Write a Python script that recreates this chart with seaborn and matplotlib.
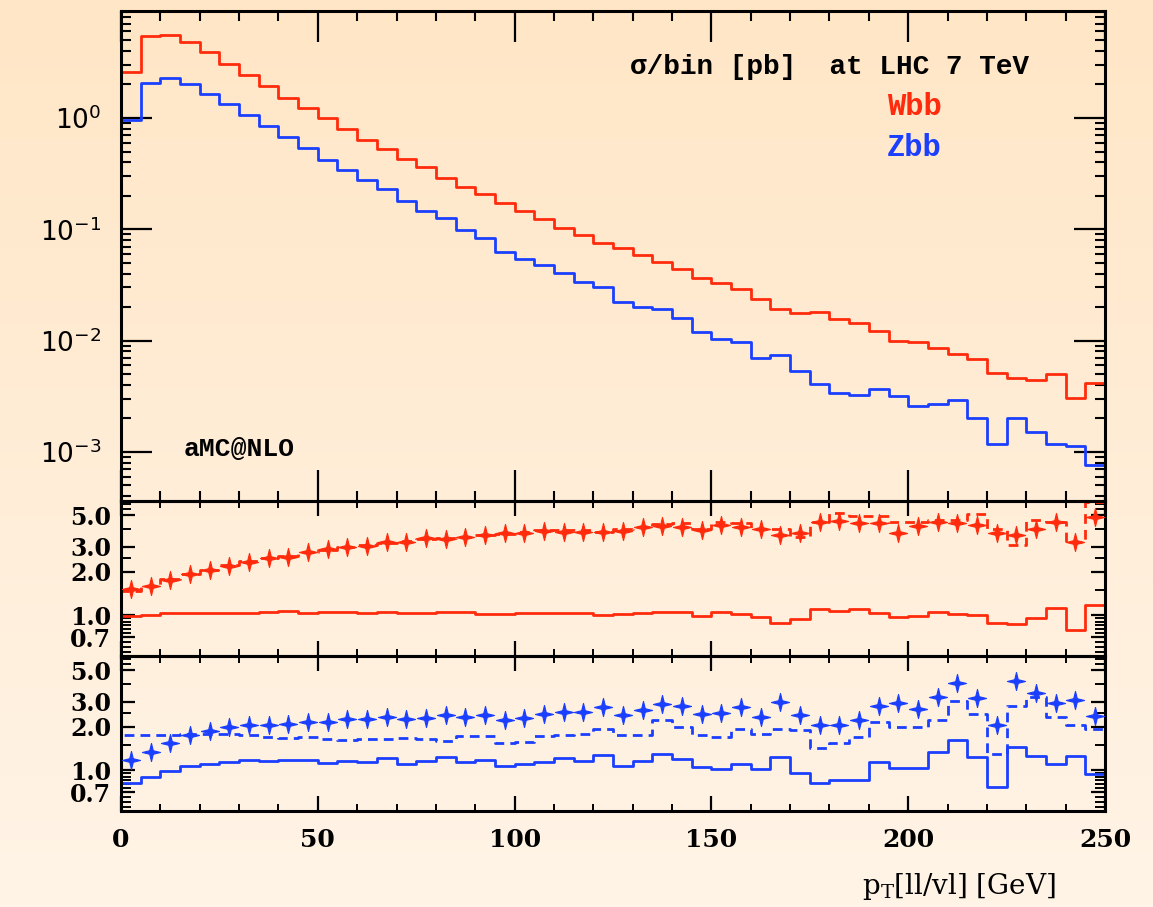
import numpy as np
import pandas as pd
import matplotlib
matplotlib.use("Agg")
import matplotlib.pyplot as plt
from matplotlib.path import Path
from matplotlib.colors import LinearSegmentedColormap
from matplotlib.ticker import (FixedLocator, FixedFormatter, LogLocator,
                               MultipleLocator, NullFormatter)
import seaborn as sns

# ---------------- data ----------------
bin_edges = np.arange(0, 255, 5)          # pT bins [GeV]
bin_centers = bin_edges[:-1] + 2.5

wbb_xsec = [2.57, 5.4, 5.6, 4.85, 3.9, 3.08, 2.43, 1.94, 1.51, 1.22,
            0.99, 0.79, 0.64, 0.53, 0.43, 0.36, 0.287, 0.241, 0.209, 0.172,
            0.145, 0.124, 0.103, 0.0889, 0.0759, 0.0676, 0.0588, 0.0505, 0.0437, 0.0363,
            0.0331, 0.0288, 0.0236, 0.0191, 0.0176, 0.0181, 0.0156, 0.0143, 0.0121, 0.00985,
            0.00965, 0.0085, 0.00758, 0.00679, 0.00515, 0.00464, 0.0044, 0.00498, 0.00303, 0.00413]

zbb_xsec = [0.96, 2.08, 2.27, 2.03, 1.65, 1.34, 1.07, 0.848, 0.679, 0.534,
            0.422, 0.341, 0.275, 0.23, 0.179, 0.146, 0.126, 0.0986, 0.0841, 0.063,
            0.0537, 0.0478, 0.0402, 0.0334, 0.0305, 0.0224, 0.0202, 0.0192, 0.0161, 0.012,
            0.0103, 0.00977, 0.00698, 0.00748, 0.00537, 0.00407, 0.0034, 0.00323, 0.00367, 0.00318,
            0.0026, 0.00269, 0.00292, 0.002, 0.00118, 0.002, 0.00152, 0.00118, 0.00114, 0.00077]

wbb_ratio_solid = [0.984, 1.0, 1.03, 1.04, 1.04, 1.04, 1.04, 1.05, 1.06, 1.04,
                   1.05, 1.05, 1.04, 1.05, 1.04, 1.03, 1.05, 1.05, 1.016, 1.02,
                   1.04, 1.04, 1.03, 1.04, 1.0, 1.016, 1.04, 1.044, 1.05, 0.984,
                   1.044, 1.02, 0.973, 0.875, 0.943, 1.1, 1.066, 1.096, 1.04, 0.973,
                   0.979, 1.044, 1.02, 1.0, 0.875, 0.865, 0.953, 1.125, 0.786, 1.175]

wbb_ratio_dashed = [1.48, 1.6, 1.78, 1.95, 2.08, 2.22, 2.38, 2.5, 2.6, 2.75,
                    2.85, 3.0, 3.1, 3.2, 3.3, 3.4, 3.45, 3.5, 3.6, 3.7,
                    3.8, 3.9, 3.95, 3.9, 3.83, 3.97, 4.1, 4.33, 4.38, 3.97,
                    4.49, 4.38, 3.97, 3.97, 3.53, 4.49, 5.19, 4.92, 4.92, 4.49,
                    4.49, 4.61, 4.61, 5.08, 3.97, 3.09, 4.61, 4.49, 3.26, 6.2]

wbb_ratio_points = [1.51, 1.6, 1.76, 1.93, 2.06, 2.2, 2.36, 2.52, 2.56, 2.74,
                    2.88, 3.0, 3.04, 3.26, 3.26, 3.44, 3.4, 3.49, 3.63, 3.73,
                    3.77, 3.89, 3.83, 3.83, 3.83, 3.89, 4.1, 4.19, 4.15, 3.93,
                    4.26, 4.15, 3.99, 3.63, 3.76, 4.45, 4.57, 4.38, 4.38, 3.76,
                    4.21, 4.45, 4.42, 4.26, 3.73, 3.63, 3.97, 4.49, 3.26, 4.82]

zbb_ratio_solid = [0.814, 0.896, 0.987, 1.07, 1.11, 1.14, 1.17, 1.164, 1.18, 1.18,
                   1.12, 1.16, 1.13, 1.22, 1.1, 1.15, 1.23, 1.13, 1.18, 1.06,
                   1.11, 1.13, 1.22, 1.15, 1.27, 1.07, 1.15, 1.29, 1.2, 1.05,
                   1.01, 1.11, 1.02, 1.24, 0.956, 0.818, 0.858, 0.858, 1.14, 1.04,
                   1.035, 1.33, 1.63, 1.24, 0.763, 1.44, 1.25, 1.11, 1.25, 0.945]

zbb_ratio_dashed = [1.77, 1.77, 1.77, 1.79, 1.79, 1.8, 1.75, 1.71, 1.68, 1.71,
                    1.66, 1.61, 1.64, 1.66, 1.68, 1.66, 1.59, 1.73, 1.73, 1.55,
                    1.56, 1.73, 1.77, 1.8, 1.95, 1.77, 1.77, 2.23, 2.0, 1.77,
                    1.71, 1.95, 1.8, 1.95, 1.9, 1.43, 1.55, 1.71, 2.15, 2.0,
                    2.0, 2.25, 3.03, 2.48, 1.30, 2.81, 3.25, 2.33, 2.08, 1.95]

zbb_ratio_points = [1.17, 1.33, 1.55, 1.75, 1.88, 2.0, 2.06, 2.08, 2.11, 2.15,
                    2.15, 2.27, 2.27, 2.36, 2.29, 2.32, 2.44, 2.36, 2.44, 2.25,
                    2.32, 2.47, 2.55, 2.55, 2.77, 2.44, 2.62, 2.89, 2.81, 2.47,
                    2.52, 2.74, 2.33, 3.0, 2.42, 2.08, 2.08, 2.25, 2.79, 2.92,
                    2.66, 3.25, 4.03, 3.2, 2.08, 4.2, 3.43, 2.92, 3.08, 2.39]

ratio_ticks = [0.7, 1.0, 2.0, 3.0, 5.0]
ratio_tick_labels = ["0.7", "1.0", "2.0", "3.0", "5.0"]
x_ticks = [0, 50, 100, 150, 200, 250]

RED = "#ff2b0c"
BLUE = "#1b3fff"

# ---------------- style ----------------
sns.set_theme(style="ticks")
plt.rcParams["font.family"] = ["DejaVu Sans"]
plt.rcParams["axes.linewidth"] = 2.2
plt.rcParams["text.color"] = "black"
plt.rcParams["xtick.color"] = "black"
plt.rcParams["ytick.color"] = "black"
plt.rcParams["xtick.labelcolor"] = "black"
plt.rcParams["ytick.labelcolor"] = "black"

fig = plt.figure(figsize=(11.53, 9.07), dpi=100)

# background gradient
bg = fig.add_axes([0, 0, 1, 1], zorder=-10)
grad = np.linspace(0, 1, 256)[:, None]
cmap = LinearSegmentedColormap.from_list("bg", ["#ffe6c6", "#fff4e7"])
bg.imshow(grad, aspect="auto", cmap=cmap, extent=[0, 1, 0, 1], origin="upper")
bg.axis("off")

H = 907.0
L, W = 121 / 1153, 984 / 1153
ax_top = fig.add_axes([L, (H - 501) / H, W, 490 / H])
ax_mid = fig.add_axes([L, (H - 656) / H, W, 155 / H])
ax_bot = fig.add_axes([L, (H - 811) / H, W, 155 / H])

TOP_YLIM = (3.62e-4, 9.15)
RATIO_YLIM = (0.517, 6.27)

star = Path.unit_regular_star(4, innerCircle=0.28)


def step_frame(values, floor):
    x = np.concatenate([[bin_edges[0]], bin_edges])
    y = np.concatenate([[floor], values, [values[-1]]])
    return pd.DataFrame({"x": x, "y": y})


def draw_step(ax, values, floor, color, ls="-"):
    sns.lineplot(data=step_frame(values, floor), x="x", y="y", ax=ax,
                 estimator=None, sort=False, drawstyle="steps-post",
                 color=color, linewidth=2.0, linestyle=ls)


for ax in (ax_top, ax_mid, ax_bot):
    ax.set_facecolor("none")

# top panel
ax_top.set_yscale("log")
draw_step(ax_top, wbb_xsec, TOP_YLIM[0], RED)
draw_step(ax_top, zbb_xsec, TOP_YLIM[0], BLUE)
ax_top.set_ylim(*TOP_YLIM)
ax_top.yaxis.set_major_locator(LogLocator(base=10, numticks=10))
ax_top.yaxis.set_minor_locator(LogLocator(base=10, subs=np.arange(2, 10), numticks=20))
ax_top.yaxis.set_minor_formatter(NullFormatter())

# ratio panels
dash = (0, (3.5, 2.2))
for ax, solid, dashed, pts, col in ((ax_mid, wbb_ratio_solid, wbb_ratio_dashed, wbb_ratio_points, RED),
                                    (ax_bot, zbb_ratio_solid, zbb_ratio_dashed, zbb_ratio_points, BLUE)):
    ax.set_yscale("log")
    draw_step(ax, solid, RATIO_YLIM[0], col)
    draw_step(ax, dashed, RATIO_YLIM[0], col, ls=dash)
    sns.scatterplot(x=bin_centers, y=pts, ax=ax, marker=star, s=170,
                    color=col, edgecolor=col, linewidth=0.8, zorder=3)
    ax.set_ylim(*RATIO_YLIM)
    ax.yaxis.set_major_locator(FixedLocator(ratio_ticks))
    ax.yaxis.set_major_formatter(FixedFormatter(ratio_tick_labels))
    ax.yaxis.set_minor_locator(FixedLocator([0.55, 0.6, 0.65, 0.75, 0.8, 0.85, 0.9, 0.95,
                                             1.5, 2.5, 4.0, 5.5, 6.0]))
    ax.yaxis.set_minor_formatter(NullFormatter())

for ax in (ax_top, ax_mid, ax_bot):
    ax.set_xlim(0, 250)
    ax.xaxis.set_major_locator(FixedLocator(x_ticks))
    ax.xaxis.set_minor_locator(MultipleLocator(10))
    ax.set_xlabel("")
    ax.set_ylabel("")
    for s in ax.spines.values():
        s.set_visible(True)
        s.set_linewidth(2.2)
        s.set_color("black")

ax_top.tick_params(axis="both", which="both", direction="in", top=True, right=True,
                   color="black", labelcolor="black", labelbottom=False)
ax_top.tick_params(axis="both", which="major", length=22, width=1.6)
ax_top.tick_params(axis="both", which="minor", length=7, width=1.5)
ax_top.tick_params(axis="y", which="major", labelsize=19, pad=14)

for ax in (ax_mid, ax_bot):
    ax.tick_params(axis="both", which="both", direction="in", top=True, right=True,
                   color="black", labelcolor="black")
    ax.tick_params(axis="x", which="major", length=11, width=1.6)
    ax.tick_params(axis="x", which="minor", length=5, width=1.4)
    ax.tick_params(axis="y", which="major", length=10, width=1.6, pad=7)
    ax.tick_params(axis="y", which="minor", length=7, width=1.4)
    for lab in ax.get_yticklabels():
        lab.set_family("DejaVu Serif")
        lab.set_fontsize(17)
        lab.set_weight("bold")

ax_mid.tick_params(labelbottom=False)
ax_bot.tick_params(axis="x", which="major", labelsize=18, pad=12)
for lab in ax_bot.get_xticklabels():
    lab.set_family("DejaVu Serif")
    lab.set_weight("bold")

# texts
fig.text(630 / 1153, 1 - 67 / H, "σ/bin [pb]  at LHC 7 TeV", family="Liberation Mono",
         weight="bold", fontsize=20, ha="left", va="center", color="black")
fig.text(887 / 1153, 1 - 107 / H, "Wbb", family="Liberation Mono", weight="bold",
         fontsize=22, ha="left", va="center", color=RED)
fig.text(887 / 1153, 1 - 148 / H, "Zbb", family="Liberation Mono", weight="bold",
         fontsize=22, ha="left", va="center", color=BLUE)
fig.text(184 / 1153, 1 - 449 / H, "aMC@NLO", family="Liberation Mono", weight="bold",
         fontsize=19, ha="left", va="center", color="black")
fig.text(1056 / 1153, 1 - 887 / H, r"p$_{\mathregular{T}}$[ll/vl] [GeV]",
         family="DejaVu Serif", fontsize=20, ha="right", va="center", color="black")

fig.savefig("out.png", dpi=100)
